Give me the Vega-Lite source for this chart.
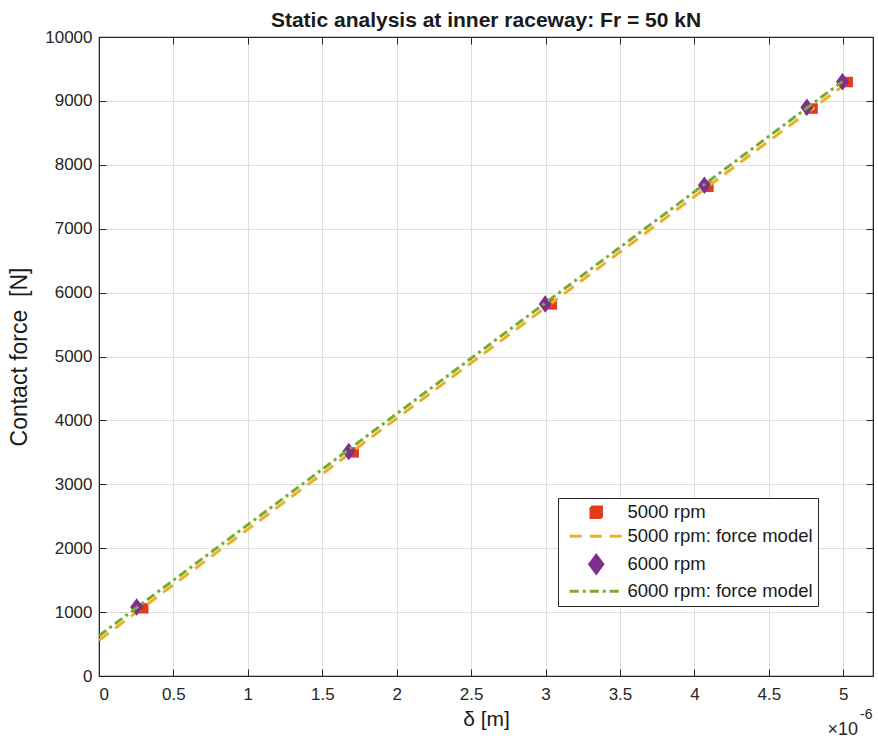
{
  "$schema": "https://vega.github.io/schema/vega-lite/v6.json",
  "width": 774,
  "height": 639,
  "autosize": {"type": "none"},
  "padding": {"left": 99, "top": 37, "right": 5, "bottom": 66},
  "background": "white",
  "title": {"text": "Static analysis at inner raceway: Fr = 50 kN", "font": "Liberation Sans", "fontSize": 21, "fontWeight": "bold", "color": "#1a1a1a", "offset": -3, "anchor": "middle"},
  "config": {
    "view": {"stroke": "#262626", "strokeWidth": 1.2},
    "axis": {
      "labelFont": "Liberation Sans", "labelFontSize": 17, "labelColor": "#262626",
      "titleFont": "Liberation Sans", "titleFontSize": 22, "titleFontWeight": "normal", "titleColor": "#1a1a1a",
      "domainColor": "#262626", "tickColor": "#262626", "tickSize": -7, "tickWidth": 1,
      "gridColor": "#dedede", "gridWidth": 1
    }
  },
  "datasets": {
    "measured": [
      {"series": "5000 rpm", "delta": 0.297, "force": 1060},
      {"series": "5000 rpm", "delta": 1.711, "force": 3500},
      {"series": "5000 rpm", "delta": 3.042, "force": 5815},
      {"series": "5000 rpm", "delta": 4.094, "force": 7655},
      {"series": "5000 rpm", "delta": 4.794, "force": 8880},
      {"series": "5000 rpm", "delta": 5.03, "force": 9295},
      {"series": "6000 rpm", "delta": 0.253, "force": 1080},
      {"series": "6000 rpm", "delta": 1.678, "force": 3515},
      {"series": "6000 rpm", "delta": 2.998, "force": 5820},
      {"series": "6000 rpm", "delta": 4.067, "force": 7680},
      {"series": "6000 rpm", "delta": 4.756, "force": 8900},
      {"series": "6000 rpm", "delta": 4.995, "force": 9300}
    ],
    "model": [
      {"series": "5000 rpm: force model", "delta": 0, "force": 560},
      {"series": "5000 rpm: force model", "delta": 5.03, "force": 9290},
      {"series": "6000 rpm: force model", "delta": 0, "force": 630},
      {"series": "6000 rpm: force model", "delta": 4.995, "force": 9305}
    ],
    "exponent": [{"base": "×10", "power": "-6"}]
  },
  "resolve": {"axis": {"x": "independent", "y": "independent"}},
  "layer": [
    {
      "data": {"name": "measured"},
      "transform": [{"filter": "datum.series === '5000 rpm'"}],
      "mark": {"type": "point", "filled": true, "size": 100, "opacity": 1, "strokeWidth": 0},
      "encoding": {
        "x": {"field": "delta", "type": "quantitative", "scale": {"domain": [0, 5.2], "nice": false, "zero": false},
              "axis": {"orient": "bottom", "values": [0, 0.5, 1, 1.5, 2, 2.5, 3, 3.5, 4, 4.5, 5], "format": "~g", "title": "δ [m]", "titleFontSize": 21, "labelPadding": 17, "titlePadding": 6, "grid": true}},
        "y": {"field": "force", "type": "quantitative", "scale": {"domain": [0, 10000], "nice": false},
              "axis": {"orient": "left", "values": [0, 1000, 2000, 3000, 4000, 5000, 6000, 7000, 8000, 9000, 10000], "format": "d", "title": "Contact force \u00a0[N]", "titleFontSize": 23, "labelPadding": 14, "titlePadding": 13, "grid": true}},
        "color": {"field": "series", "type": "nominal",
                  "scale": {"domain": ["5000 rpm", "5000 rpm: force model", "6000 rpm", "6000 rpm: force model"], "range": ["#E03C1E", "#EDB120", "#7E2F8E", "#77AC30"]},
                  "legend": {"orient": "none", "legendX": 459, "legendY": 461, "title": null, "fillColor": "white", "strokeColor": "#262626", "padding": 5,
                             "labelFont": "Liberation Sans", "labelFontSize": 18.5, "labelColor": "#1a1a1a", "labelLimit": 0, "symbolSize": 100, "rowPadding": 3,
                             "symbolOffset": 24, "labelOffset": 22, "symbolStrokeWidth": 3,
                             "encode": {"symbols": {"update": {
                               "fill": {"scale": "color", "field": "value"},
                               "stroke": {"scale": "color", "field": "value"},
                               "strokeWidth": {"value": 3},
                               "strokeDash": {"scale": "strokeDash", "field": "value"},
                               "shape": {"scale": "shape", "field": "value"},
                               "opacity": {"value": 1}}}}}},
        "shape": {"field": "series", "type": "nominal",
                  "scale": {"domain": ["5000 rpm", "5000 rpm: force model", "6000 rpm", "6000 rpm: force model"],
                            "range": ["M-1.05,-1.05H1.05V1.05H-1.05Z", "M-5.3,0H5.3", "M0,-1.75L1.3,0L0,1.75L-1.3,0Z", "M-5.3,0H5.3"]}}
      }
    },
    {
      "data": {"name": "model"},
      "transform": [{"filter": "datum.series === '5000 rpm: force model'"}],
      "mark": {"type": "line", "strokeWidth": 3},
      "encoding": {
        "x": {"field": "delta", "type": "quantitative", "axis": null},
        "y": {"field": "force", "type": "quantitative", "axis": null},
        "color": {"field": "series", "type": "nominal"},
        "strokeDash": {"field": "series", "type": "nominal",
                       "scale": {"domain": ["5000 rpm", "5000 rpm: force model", "6000 rpm", "6000 rpm: force model"], "range": [[1, 0], [12, 8], [1, 0], [9, 4, 3, 4]]}}
      }
    },
    {
      "data": {"name": "measured"},
      "transform": [{"filter": "datum.series === '6000 rpm'"}],
      "mark": {"type": "point", "filled": true, "size": 100, "opacity": 1, "strokeWidth": 0},
      "encoding": {
        "x": {"field": "delta", "type": "quantitative", "axis": null},
        "y": {"field": "force", "type": "quantitative", "axis": null},
        "color": {"field": "series", "type": "nominal"},
        "shape": {"field": "series", "type": "nominal"}
      }
    },
    {
      "data": {"name": "model"},
      "transform": [{"filter": "datum.series === '6000 rpm: force model'"}],
      "mark": {"type": "line", "strokeWidth": 3},
      "encoding": {
        "x": {"field": "delta", "type": "quantitative", "axis": null},
        "y": {"field": "force", "type": "quantitative", "axis": null},
        "color": {"field": "series", "type": "nominal"},
        "strokeDash": {"field": "series", "type": "nominal"}
      }
    },
    {
      "data": {"name": "exponent"},
      "mark": {"type": "text", "font": "Liberation Sans", "fontSize": 18, "color": "#262626", "align": "right", "baseline": "alphabetic", "dy": 59, "dx": -15},
      "encoding": {
        "x": {"datum": 5.2, "type": "quantitative", "axis": {"orient": "top", "values": [0, 0.5, 1, 1.5, 2, 2.5, 3, 3.5, 4, 4.5, 5], "labels": false, "title": null, "grid": false}},
        "y": {"datum": 0, "type": "quantitative", "axis": {"orient": "right", "values": [0, 1000, 2000, 3000, 4000, 5000, 6000, 7000, 8000, 9000, 10000], "labels": false, "title": null, "grid": false}},
        "text": {"field": "base"}
      }
    },
    {
      "data": {"name": "exponent"},
      "mark": {"type": "text", "font": "Liberation Sans", "fontSize": 14, "color": "#262626", "align": "left", "baseline": "alphabetic", "dy": 43, "dx": -13},
      "encoding": {
        "x": {"datum": 5.2, "type": "quantitative", "axis": null},
        "y": {"datum": 0, "type": "quantitative", "axis": null},
        "text": {"field": "power"}
      }
    }
  ]
}
